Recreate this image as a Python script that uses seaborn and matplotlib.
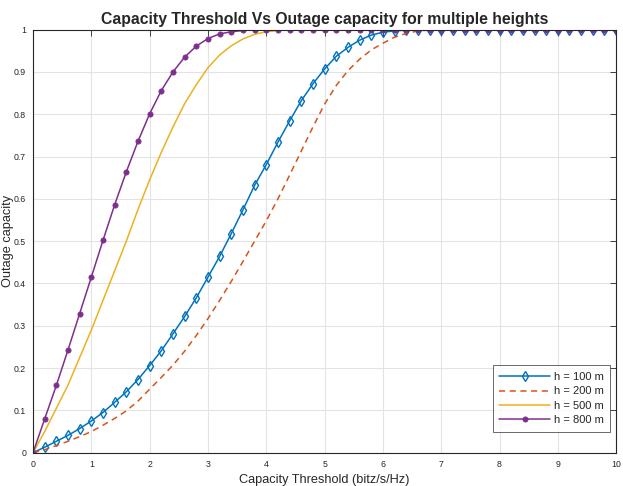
import matplotlib
matplotlib.use('Agg')
import numpy as np
import pandas as pd
import seaborn as sns
import matplotlib.pyplot as plt

# capacity threshold samples (bitz/s/Hz)
thresholds = [round(0.2 * i, 1) for i in range(51)]

# outage capacity, one list per height
h100 = [0, 0.013, 0.027, 0.041, 0.057, 0.075, 0.095, 0.119, 0.144, 0.173,
        0.206, 0.241, 0.281, 0.322, 0.366, 0.415, 0.464, 0.518, 0.574, 0.632,
        0.681, 0.734, 0.784, 0.832, 0.872, 0.907, 0.937, 0.958, 0.975, 0.987,
        0.994, 0.997, 0.999] + [1.0] * 18
h200 = [0, 0.007, 0.017, 0.027, 0.038, 0.050, 0.065, 0.081, 0.099, 0.122,
        0.150, 0.178, 0.207, 0.240, 0.277, 0.317, 0.360, 0.405, 0.452, 0.500,
        0.548, 0.600, 0.656, 0.713, 0.770, 0.824, 0.868, 0.903, 0.930, 0.952,
        0.968, 0.982, 0.991, 0.997, 0.999] + [1.0] * 16
h500 = [0, 0.05, 0.105, 0.16, 0.225, 0.29, 0.36, 0.43, 0.50, 0.575,
        0.645, 0.71, 0.77, 0.825, 0.87, 0.91, 0.94, 0.962, 0.978, 0.989,
        0.995, 0.998] + [1.0] * 29
h800 = [0, 0.080, 0.159, 0.243, 0.329, 0.415, 0.502, 0.586, 0.664, 0.736,
        0.801, 0.856, 0.900, 0.935, 0.961, 0.979, 0.990, 0.995, 0.998] + [1.0] * 32

labels = ["h = 100 m", "h = 200 m", "h = 500 m", "h = 800 m"]
colors = ["#0072BD", "#D95319", "#EDB120", "#7E2F8E"]

sns.set_style("whitegrid")
plt.rcParams['font.family'] = ['Liberation Sans', 'DejaVu Sans']

fig = plt.figure(figsize=(6.23, 4.86), dpi=100)
ax = fig.add_axes([0.053, 0.0685, 0.936, 0.8705])

series = [h100, h200, h500, h800]
styles = [dict(marker="d", markersize=5.5, markerfacecolor="none", markeredgewidth=1.0),
          dict(linestyle=(0, (4, 3))),
          dict(),
          dict(marker="o", markersize=3.8, markeredgewidth=0.5)]
for vals, lab, col, st in zip(series, labels, colors, styles):
    df = pd.DataFrame({"x": thresholds, "y": vals})
    sns.lineplot(data=df, x="x", y="y", ax=ax, color=col, label=lab,
                 linewidth=1.1, markeredgecolor=col, **st)

ax.set_xlim(0, 10)
ax.set_ylim(0, 1)
ax.set_xticks(range(11))
ax.set_yticks(np.arange(0, 1.01, 0.1))
ax.set_xticklabels([str(i) for i in range(11)])
ax.set_yticklabels(["0"] + ["%.1f" % v for v in np.arange(0.1, 1.0, 0.1)] + ["1"])
ax.tick_params(direction="in", length=4, width=0.6, labelsize=6.3, colors="#262626",
               top=True, right=True, pad=5)
ax.grid(True, color="#e3e3e3", linewidth=0.8)
for s in ax.spines.values():
    s.set_color("#262626")
    s.set_linewidth(0.8)

ax.set_title("Capacity Threshold Vs Outage capacity for multiple heights",
             fontsize=11.3, fontweight="bold", pad=4)
ax.set_xlabel("Capacity Threshold (bitz/s/Hz)", fontsize=9.2, color="#262626")
ax.xaxis.set_label_coords(0.5, -0.05)
ax.set_ylabel("Outage capacity", fontsize=9.2, color="#262626")
ax.yaxis.set_label_coords(-0.032, 0.5)

leg = ax.legend(loc="lower right", bbox_to_anchor=(0.99, 0.049), borderaxespad=0,
                fontsize=8, frameon=True, fancybox=False, handlelength=4.6,
                borderpad=0.6, labelspacing=0.4, handletextpad=0.3)
leg.get_frame().set_edgecolor("#262626")
leg.get_frame().set_linewidth(0.6)

fig.savefig("out.png", dpi=100)
